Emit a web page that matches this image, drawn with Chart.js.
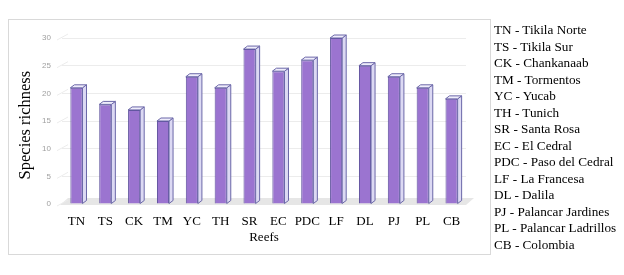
<!DOCTYPE html>
<html>
<head>
<meta charset="utf-8">
<script src="https://cdn.jsdelivr.net/npm/chart.js@4/dist/chart.umd.min.js"></script>
<style>
  html, body { margin: 0; padding: 0; background: #fff; }
  #wrap { position: relative; width: 624px; height: 275px; overflow: hidden; }
  #frame { position: absolute; left: 8px; top: 19px; width: 481px; height: 234px; border: 1px solid #d9d9d9; }
  #cv { position: absolute; left: 0; top: 0; }
  #legend { position: absolute; left: 494px; top: 22px; font-family: "Liberation Serif", "Times New Roman", serif; font-size: 13.2px; line-height: 16.5px; color: #000; white-space: nowrap; }
</style>
</head>
<body>
<div id="wrap">
  <div id="frame"></div>
  <canvas id="cv" width="624" height="275"></canvas>
  <div id="legend"></div>
</div>
<script>
const categories = ["TN","TS","CK","TM","YC","TH","SR","EC","PDC","LF","DL","PJ","PL","CB"];
const reefNames = ["Tikila Norte","Tikila Sur","Chankanaab","Tormentos","Yucab","Tunich","Santa Rosa","El Cedral","Paso del Cedral","La Francesa","Dalila","Palancar Jardines","Palancar Ladrillos","Colombia"];
const speciesRichness = [21,18,17,15,23,21,28,24,26,30,25,23,21,19];
const yTicks = [0,5,10,15,20,25,30];

const legend = document.getElementById('legend');
categories.forEach((c, i) => {
  const d = document.createElement('div');
  d.textContent = c + " - " + reefNames[i];
  legend.appendChild(d);
});

const DX = 4, DY = 3;
const bar3d = {
  id: 'bar3d',
  beforeDatasetsDraw(chart) {
    const ctx = chart.ctx, a = chart.chartArea;
    const ys = chart.scales.y;
    ctx.save();
    // floor
    ctx.fillStyle = '#e6e6e6';
    ctx.beginPath();
    ctx.moveTo(a.left - 2, a.bottom + 1);
    ctx.lineTo(a.right, a.bottom + 1);
    ctx.lineTo(a.right + 8, a.bottom - 6);
    ctx.lineTo(a.left + 6, a.bottom - 6);
    ctx.closePath();
    ctx.fill();
    // diagonal stubs of grid
    ctx.strokeStyle = '#ececec';
    ctx.lineWidth = 1;
    yTicks.forEach(v => {
      const y = ys.getPixelForValue(v);
      ctx.beginPath();
      ctx.moveTo(a.left - 5, y + 2);
      ctx.lineTo(a.left + 6, y - 4);
      ctx.stroke();
    });
    ctx.restore();
  },
  afterDatasetsDraw(chart) {
    const ctx = chart.ctx;
    const meta = chart.getDatasetMeta(0);
    ctx.save();
    meta.data.forEach(el => {
      const p = el.getProps(['x','y','base','width'], true);
      const l = p.x - p.width / 2, r = p.x + p.width / 2, t = p.y, b = p.base;
      ctx.lineWidth = 1;
      ctx.strokeStyle = '#6b67a8';
      // side face
      ctx.fillStyle = '#dcd9f3';
      ctx.beginPath();
      ctx.moveTo(r, b);
      ctx.lineTo(r + DX, b - DY);
      ctx.lineTo(r + DX, t - DY);
      ctx.lineTo(r, t);
      ctx.closePath();
      ctx.fill(); ctx.stroke();
      // top face
      ctx.fillStyle = '#efedfb';
      ctx.beginPath();
      ctx.moveTo(l, t);
      ctx.lineTo(l + DX, t - DY);
      ctx.lineTo(r + DX, t - DY);
      ctx.lineTo(r, t);
      ctx.closePath();
      ctx.fill(); ctx.stroke();
    });
    ctx.restore();
  }
};

new Chart(document.getElementById('cv'), {
  type: 'bar',
  data: {
    labels: categories,
    datasets: [{
      data: speciesRichness,
      backgroundColor: '#9b74d0',
      borderColor: '#5a4c9a',
      borderWidth: 1,
      barPercentage: 0.84,
      categoryPercentage: 0.5
    }]
  },
  options: {
    responsive: false,
    animation: false,
    devicePixelRatio: 1,
    layout: { padding: { left: 14, top: 38, right: 158, bottom: 28 } },
    plugins: { legend: { display: false }, tooltip: { enabled: false } },
    scales: {
      x: {
        grid: { display: false },
        border: { display: false },
        ticks: { color: '#000', padding: 2, maxRotation: 0, minRotation: 0, autoSkip: false, font: { family: '"Liberation Serif", serif', size: 13 } },
        title: { display: true, text: 'Reefs', color: '#000', padding: { top: 0, bottom: 2 }, font: { family: '"Liberation Serif", serif', size: 13 } },
        afterFit(s) { s.height = 43; }
      },
      y: {
        min: 0, max: 30,
        afterBuildTicks(s) { s.ticks = yTicks.map(v => ({ value: v })); },
        grid: { color: '#ececec', drawTicks: false },
        border: { display: false },
        ticks: { color: '#a0a0a0', padding: 11, font: { family: '"Liberation Sans", sans-serif', size: 8 } },
        title: { display: true, text: 'Species richness  ', color: '#000', padding: { top: 2, bottom: 0 }, font: { family: '"Liberation Serif", serif', size: 16.5 } },
        afterFit(s) { s.width = 48; }
      }
    }
  },
  plugins: [bar3d]
});
</script>
</body>
</html>
